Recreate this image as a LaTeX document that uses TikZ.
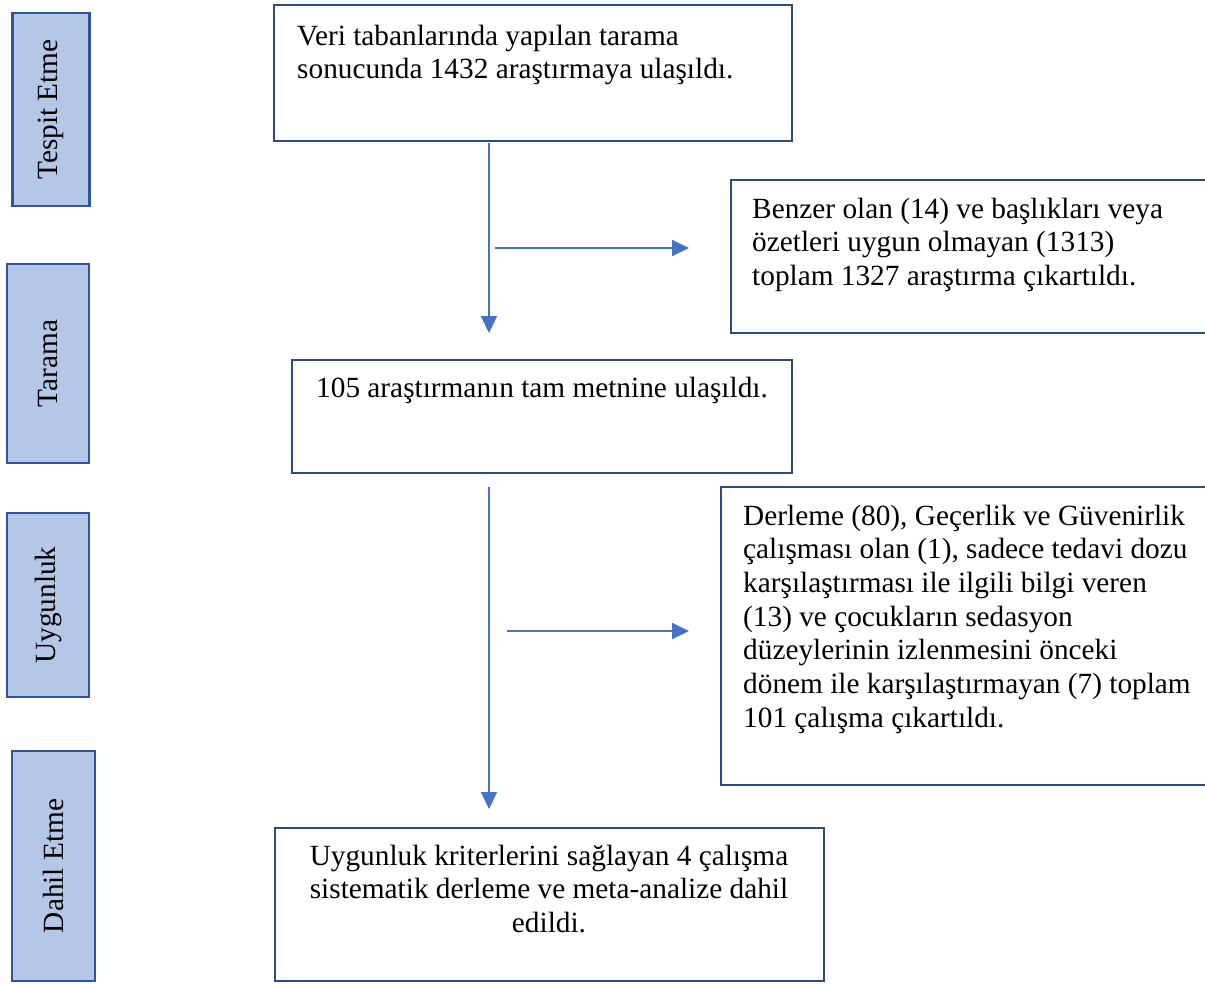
\documentclass[tikz,border=0pt]{standalone}
\usepackage{fontspec}
\setmainfont{Liberation Serif}
\usetikzlibrary{arrows.meta}
\definecolor{navy}{HTML}{2F4B7C}
\definecolor{boxblue}{HTML}{2F5597}
\definecolor{fillblue}{HTML}{B4C7E7}
\definecolor{arrowblue}{HTML}{4472C4}
\begin{document}
\begin{tikzpicture}[x=1pt,y=-1pt,
  every node/.style={font=\fontsize{29.3}{33.7}\selectfont},
  stage/.style={draw=boxblue,fill=fillblue,line width=2.8pt,inner sep=0pt},
  flowbox/.style={draw=navy,line width=2.8pt,inner sep=0pt},
  txt/.style={inner sep=0pt,align=left,anchor=base west},
  ctxt/.style={inner sep=0pt,align=center,anchor=base},
  arr/.style={draw=arrowblue,line width=1.8pt,-{Triangle[length=17pt,width=16pt]}},
]
\useasboundingbox (0,0) rectangle (1205,985);
% stage boxes
\node[stage,minimum width=77pt,minimum height=193pt] (s1) at (51,109.5) {};
\node[stage,minimum width=82pt,minimum height=199pt] (s2) at (48,363.5) {};
\node[stage,minimum width=82pt,minimum height=184pt] (s3) at (48,605) {};
\node[stage,minimum width=83pt,minimum height=230pt] (s4) at (53.5,866) {};
\node[rotate=90,inner sep=0pt] (l1) at (s1) {Tespit Etme};
\node[rotate=90,inner sep=0pt] (l2) at (s2) {Tarama};
\node[rotate=90,inner sep=0pt] (l3) at (s3) {Uygunluk};
\node[rotate=90,inner sep=0pt] (l4) at (s4) {Dahil Etme};
% flow boxes
\node[flowbox,minimum width=518pt,minimum height=136pt] (A) at (533,73) {};
\node[flowbox,minimum width=476pt,minimum height=153pt] (B) at (969,256.5) {};
\node[flowbox,minimum width=500pt,minimum height=113pt] (C) at (542,416.5) {};
\node[flowbox,minimum width=486pt,minimum height=298pt] (D) at (964,636) {};
\node[flowbox,minimum width=549pt,minimum height=153pt] (E) at (549.5,904.5) {};
% texts (base anchor = baseline of the last line)
\node[txt] (tA) at (297,78.7) {Veri tabanlarında yapılan tarama\\sonucunda 1432 araştırmaya ulaşıldı.};
\node[txt] (tB) at (752,285.4) {Benzer olan (14) ve başlıkları veya\\özetleri uygun olmayan (1313)\\toplam 1327 araştırma çıkartıldı.};
\node[ctxt] (tC) at (542,397) {105 araştırmanın tam metnine ulaşıldı.};
\node[txt] (tD) at (743,727.2) {Derleme (80), Geçerlik ve Güvenirlik\\çalışması olan (1), sadece tedavi dozu\\karşılaştırması ile ilgili bilgi veren\\(13) ve çocukların sedasyon\\düzeylerinin izlenmesini önceki\\dönem ile karşılaştırmayan (7) toplam\\101 çalışma çıkartıldı.};
\node[ctxt] (tE) at (549,932.4) {Uygunluk kriterlerini sağlayan 4 çalışma\\sistematik derleme ve meta-analize dahil\\edildi.};
% arrows
\coordinate (a1s) at (489,143);
\coordinate (a1e) at (489,333);
\coordinate (a2s) at (495,248);
\coordinate (a2e) at (689,248);
\coordinate (a3s) at (489,487);
\coordinate (a3e) at (489,809);
\coordinate (a4s) at (507,631);
\coordinate (a4e) at (689,631);
\draw[arr] (a1s) -- (a1e);
\draw[arr] (a2s) -- (a2e);
\draw[arr] (a3s) -- (a3e);
\draw[arr] (a4s) -- (a4e);
\end{tikzpicture}
\end{document}
